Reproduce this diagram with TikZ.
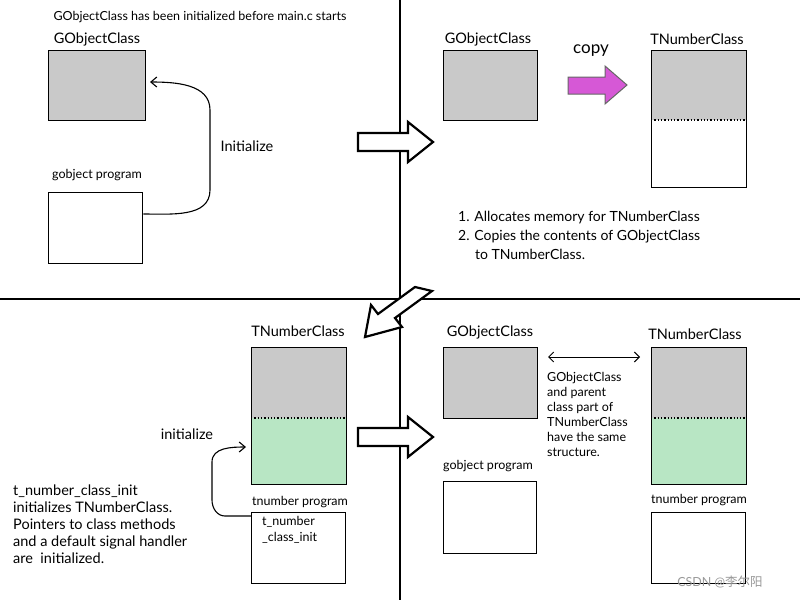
\documentclass[tikz,border=0pt]{standalone}
\usepackage{fontspec}
\usetikzlibrary{arrows.meta}
\setmainfont{Lato}
\newfontfamily\cjk{Noto Sans CJK SC}
\begin{document}
\begin{tikzpicture}[x=1pt,y=-1pt,
  box/.style={draw,line width=1.3pt},
  lbl/.style={font=\fontsize{14.5}{15}\selectfont,inner sep=0pt},
  sml/.style={font=\fontsize{12.5}{13}\selectfont,inner sep=0pt},
  txt/.style={font=\fontsize{14}{19}\selectfont,align=left,inner sep=0pt,anchor=north west},
  hol/.style={draw,line width=2.2pt,fill=white,line join=miter},
  cur/.style={draw,line width=1.1pt,-{Straight Barb[length=6pt,width=10pt]}}]
\useasboundingbox (0,0) rectangle (800,600);
\fill[white] (0,0) rectangle (800,600);
\colorlet{gr}{black!21}
\definecolor{gn}{RGB}{184,230,196}
% dividers
\draw[line width=1.6pt] (0,299) -- (800,299);
\draw[line width=1.6pt] (400,0) -- (400,600);
% top-left
\node[sml] (title) at (200,17) {GObjectClass has been initialized before main.c starts};
\node[lbl] (l1) at (97,39) {GObjectClass};
\node[box,fill=gr,minimum width=97pt,minimum height=70pt,anchor=north west] (g1) at (48,50) {};
\node[sml] (l2) at (97,175) {gobject program};
\node[box,minimum width=94pt,minimum height=71pt,anchor=north west] (p1) at (48,192) {};
\node[lbl] (ini1) at (247,146) {Initialize};
\coordinate (c1) at ([yshift=-22pt]p1.north east);
\coordinate (e1) at (150,82);
\draw[cur] (c1) to[out=0,in=-90] (210,190) -- (210,110) to[out=90,in=0] (e1);
% arrow 1
\draw[hol] (358,133) -- (408,133) -- (408,122) -- (433,142) -- (408,162) -- (408,151) -- (358,151) -- cycle;
% top-right
\node[lbl] (l3) at (488,39) {GObjectClass};
\node[box,fill=gr,minimum width=94pt,minimum height=70pt,anchor=north west] (g2) at (443,50) {};
\node[lbl,font=\fontsize{17}{18}\selectfont] (cp) at (591,51) {copy};
\draw[draw=black!60,fill={rgb,255:red,214;green,88;blue,214},line width=1pt] (568,77) -- (605,77) -- (605,66) -- (627,85) -- (605,104) -- (605,94) -- (568,94) -- cycle;
\node[lbl] (l4) at (697,39) {TNumberClass};
\fill[gr] (651,50) rectangle (746,120);
\node[box,minimum width=95pt,minimum height=137pt,anchor=north west] (t1) at (651,50) {};
\draw[line width=1.3pt,dotted] (651,120) -- (746,120);
\node[txt] (list) at (458,211) {1. Allocates memory for TNumberClass\\2. Copies the contents of GObjectClass\\\hspace*{1.2em}to TNumberClass.};
% diagonal arrow
\draw[hol] (432,291) -- (395,318) -- (402,327) -- (365,337) -- (371,305) -- (378,314) -- (415,287) -- cycle;
% bottom-left
\node[lbl] (l5) at (298,331) {TNumberClass};
\fill[gr] (251,347) rectangle (346,418);
\fill[gn] (251,418) rectangle (346,484);
\node[box,minimum width=95pt,minimum height=137pt,anchor=north west] (t2) at (251,347) {};
\draw[line width=1.3pt,dotted] (251,418) -- (346,418);
\node[sml] (l6) at (300,502) {tnumber program};
\node[box,minimum width=94pt,minimum height=71pt,anchor=north west] (p2) at (251,512) {};
\node[txt,font=\fontsize{12.5}{16}\selectfont] (tci) at (262,516) {t\_number\\\_class\_init};
\node[lbl] (ini2) at (187,434) {initialize};
\coordinate (e2) at (246,447);
\draw[cur] ([yshift=-4pt]p2.north west) -- (225,516) to[out=180,in=-90] (212,500) -- (212,462) to[out=90,in=180] (e2);
\node[txt,font=\fontsize{14.5}{17}\selectfont] (desc) at (13,485) {t\_number\_class\_init\\initializes TNumberClass.\\Pointers to class methods\\and a default signal handler\\are\ \ initialized.};
% arrow 3
\draw[hol] (358,428) -- (408,428) -- (408,417) -- (433,437) -- (408,457) -- (408,446) -- (358,446) -- cycle;
% bottom-right
\node[lbl] (l7) at (490,332) {GObjectClass};
\node[box,fill=gr,minimum width=94pt,minimum height=71pt,anchor=north west] (g3) at (443,347) {};
\node[sml] (l8) at (488,466) {gobject program};
\node[box,minimum width=93pt,minimum height=72pt,anchor=north west] (p3) at (443,481) {};
\coordinate (da) at (548,357); \coordinate (db) at (640,357);
\draw[line width=1pt,{Straight Barb[length=5pt]}-{Straight Barb[length=5pt]}] (da) -- (db);
\node[txt,font=\fontsize{12.5}{15}\selectfont] (same) at (547,372) {GObjectClass\\and parent\\class part of\\TNumberClass\\have the same\\structure.};
\node[lbl] (l9) at (695,334) {TNumberClass};
\fill[gr] (651,347) rectangle (746,418);
\fill[gn] (651,418) rectangle (746,484);
\node[box,minimum width=95pt,minimum height=137pt,anchor=north west] (t3) at (651,347) {};
\draw[line width=1.3pt,dotted] (651,418) -- (746,418);
\node[sml] (l10) at (699,500) {tnumber program};
\node[box,minimum width=94pt,minimum height=71pt,anchor=north west] (p4) at (651,512) {};
\node[sml,text=black!40] (wm) at (720,582) {CSDN @{\cjk 李尔阳}};
\end{tikzpicture}
\end{document}
